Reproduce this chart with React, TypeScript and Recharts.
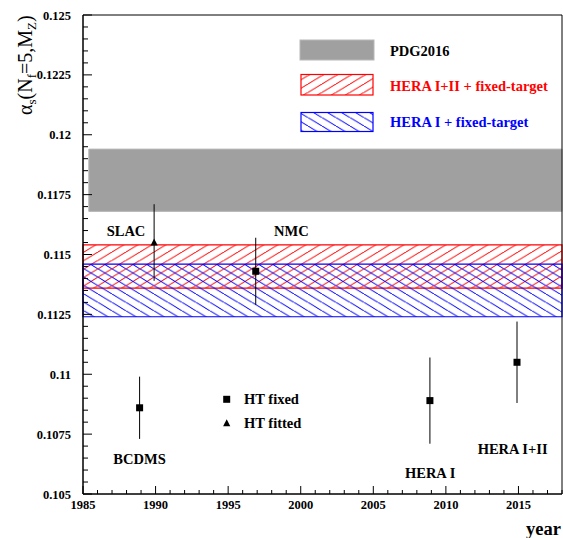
import React from 'react';
import {
  ComposedChart,
  XAxis,
  YAxis,
  Scatter,
  ErrorBar,
  ReferenceArea,
  ReferenceDot,
  Legend,
} from 'recharts';

// ---------- data ----------
const fixedNames = ['BCDMS', 'NMC', 'HERA I', 'HERA I+II'];
const fixedYears = [1988.9, 1996.9, 2008.9, 2014.9];
const fixedAlpha = [0.1086, 0.1143, 0.1089, 0.1105];
const fixedErr = [0.0013, 0.0014, 0.0018, 0.0017];

const fittedNames = ['SLAC'];
const fittedYears = [1989.9];
const fittedAlpha = [0.1155];
const fittedErr = [0.0016];

const pdgBand = [0.1168, 0.1194];
const heraIIBand = [0.1136, 0.1154];
const heraIBand = [0.1124, 0.1146];
const pdgStartYear = 1985.4;

const legendLabels = ['PDG2016', 'HERA I+II + fixed-target', 'HERA I + fixed-target'];
const markerLegendLabels = ['HT fixed', 'HT fitted'];

// experiment label anchors (data coordinates)
const labelNames = ['SLAC', 'NMC', 'BCDMS', 'HERA I', 'HERA I+II'];
const labelYears = [1986.63, 1998.16, 1987.09, 2007.18, 2012.19];
const labelAlpha = [0.11577, 0.11577, 0.10625, 0.10565, 0.10667];

const xDomain = [1985, 2018];
const yDomain = [0.105, 0.125];
const xMajorTicks = [1985, 1990, 1995, 2000, 2005, 2010, 2015];
const yMajorTicks = [0.105, 0.1075, 0.11, 0.1125, 0.115, 0.1175, 0.12, 0.1225, 0.125];

const xTicks: number[] = [];
for (let yr = xDomain[0]; yr <= xDomain[1]; yr++) xTicks.push(yr);
const yTicks: number[] = [];
for (let i = 1050; i <= 1250; i += 5) yTicks.push(i / 10000);

const fixedData = fixedYears.map((year, i) => ({
  name: fixedNames[i],
  year,
  alpha: fixedAlpha[i],
  err: fixedErr[i],
}));
const fittedData = fittedYears.map((year, i) => ({
  name: fittedNames[i],
  year,
  alpha: fittedAlpha[i],
  err: fittedErr[i],
}));

const FONT = "'Liberation Serif', 'Times New Roman', serif";

function XTick(props: any) {
  const { x, y, payload } = props;
  const v = payload.value;
  const major = xMajorTicks.includes(v);
  return (
    <g>
      <line x1={x} x2={x} y1={y} y2={y - (major ? 8 : 4)} stroke="#000" strokeWidth={1} />
      {major && (
        <text x={x} y={y + 15} textAnchor="middle" fontFamily={FONT} fontWeight="bold" fontSize={12.5} fill="#000">
          {v}
        </text>
      )}
    </g>
  );
}

function YTick(props: any) {
  const { x, y, payload } = props;
  const v = payload.value;
  const major = yMajorTicks.some((t) => Math.abs(t - v) < 1e-9);
  return (
    <g>
      <line x1={x} x2={x + (major ? 9 : 5)} y1={y} y2={y} stroke="#000" strokeWidth={1} />
      {major && (
        <text x={x - 12} y={y} dy="0.36em" textAnchor="end" fontFamily={FONT} fontWeight="bold" fontSize={12.5} fill="#000">
          {String(v)}
        </text>
      )}
    </g>
  );
}

const SquareShape = (props: any) => {
  const { cx, cy } = props;
  return <rect x={cx - 3.5} y={cy - 3.5} width={7} height={7} fill="#000" />;
};
const TriangleShape = (props: any) => {
  const { cx, cy } = props;
  return <polygon points={`${cx},${cy - 4} ${cx + 3.6},${cy + 3} ${cx - 3.6},${cy + 3}`} fill="#000" />;
};

const YTitle = () => (
  <text
    transform="translate(32,115) rotate(-90)"
    fontFamily={FONT}
    fontSize={20}
    fill="#000"
  >
    α<tspan fontSize={13} dy={4}>s</tspan>
    <tspan dy={-4}>(N</tspan>
    <tspan fontSize={13} dy={4}>f</tspan>
    <tspan dy={-4}>=5,M</tspan>
    <tspan fontSize={13} dy={4}>Z</tspan>
    <tspan dy={-4}>)</tspan>
  </text>
);

const XTitle = () => (
  <text x={561} y={535} textAnchor="end" fontFamily={FONT} fontWeight="bold" fontSize={18.5} fill="#000">
    year
  </text>
);

const Defs = () => (
  <svg width={0} height={0} style={{ position: 'absolute' }}>
    <defs>
      <pattern id="hatchRed" patternUnits="userSpaceOnUse" width={14} height={8.4}>
        <line x1={0} y1={8.4} x2={14} y2={0} stroke="#ff0000" strokeWidth={1} />
        <line x1={-14} y1={8.4} x2={0} y2={0} stroke="#ff0000" strokeWidth={1} />
        <line x1={14} y1={8.4} x2={28} y2={0} stroke="#ff0000" strokeWidth={1} />
      </pattern>
      <pattern id="hatchBlue" patternUnits="userSpaceOnUse" width={14} height={8.4}>
        <line x1={0} y1={0} x2={14} y2={8.4} stroke="#0000ff" strokeWidth={1} />
        <line x1={-14} y1={0} x2={0} y2={8.4} stroke="#0000ff" strokeWidth={1} />
        <line x1={14} y1={0} x2={28} y2={8.4} stroke="#0000ff" strokeWidth={1} />
      </pattern>
    </defs>
  </svg>
);

const LegendContent = () => (
  <svg width={563} height={538} style={{ position: 'absolute', left: 0, top: 0 }}>
    <rect x={300} y={40} width={74} height={20} fill="#a0a0a0" stroke="#b8b8b8" strokeWidth={1} />
    <text x={390} y={56} fontFamily={FONT} fontWeight="bold" fontSize={14.5} fill="#000">
      {legendLabels[0]}
    </text>
    <rect x={301} y={74.5} width={72} height={20.5} fill="url(#hatchRed)" stroke="#ff0000" strokeWidth={1.2} />
    <text x={390} y={91} fontFamily={FONT} fontWeight="bold" fontSize={14.5} fill="#ff0000">
      {legendLabels[1]}
    </text>
    <rect x={301} y={112.5} width={72} height={19} fill="url(#hatchBlue)" stroke="#0000ff" strokeWidth={1.2} />
    <text x={390} y={126.5} fontFamily={FONT} fontWeight="bold" fontSize={14.5} fill="#0000ff">
      {legendLabels[2]}
    </text>
    <rect x={223.2} y={395.8} width={7} height={7} fill="#000" />
    <text x={244} y={404} fontFamily={FONT} fontWeight="bold" fontSize={14.5} fill="#000">
      {markerLegendLabels[0]}
    </text>
    <polygon points="226.7,419.3 230.3,426.3 223.1,426.3" fill="#000" />
    <text x={244} y={428} fontFamily={FONT} fontWeight="bold" fontSize={14.5} fill="#000">
      {markerLegendLabels[1]}
    </text>
  </svg>
);

export default function App() {
  return (
    <div style={{ position: 'absolute', left: 0, top: 0, width: 563, height: 538, background: '#fff' }}>
      <Defs />
      <ComposedChart width={563} height={538} margin={{ top: 15, right: 1, bottom: 0, left: 0 }}>
        <XAxis
          type="number"
          dataKey="year"
          domain={xDomain}
          ticks={xTicks}
          interval={0}
          allowDataOverflow
          height={44}
          tickSize={0}
          tickMargin={0}
          tickLine={false}
          tick={<XTick />}
          axisLine={{ stroke: '#000', strokeWidth: 1 }}
          label={<XTitle />}
        />
        <YAxis
          type="number"
          dataKey="alpha"
          domain={yDomain}
          ticks={yTicks}
          interval={0}
          allowDataOverflow
          width={83}
          tickSize={0}
          tickMargin={0}
          tickLine={false}
          tick={<YTick />}
          axisLine={{ stroke: '#000', strokeWidth: 1 }}
          label={<YTitle />}
        />
        <ReferenceArea
          x1={pdgStartYear}
          x2={xDomain[1]}
          y1={pdgBand[0]}
          y2={pdgBand[1]}
          fill="#a0a0a0"
          fillOpacity={1}
          stroke="#b8b8b8"
          strokeWidth={1}
          ifOverflow="visible"
        />
        <ReferenceArea
          x1={xDomain[0]}
          x2={xDomain[1]}
          y1={heraIIBand[0]}
          y2={heraIIBand[1]}
          fill="url(#hatchRed)"
          fillOpacity={1}
          stroke="#ff0000"
          strokeWidth={1.2}
          ifOverflow="visible"
        />
        <ReferenceArea
          x1={xDomain[0]}
          x2={xDomain[1]}
          y1={heraIBand[0]}
          y2={heraIBand[1]}
          fill="url(#hatchBlue)"
          fillOpacity={1}
          stroke="#0000ff"
          strokeWidth={1.2}
          ifOverflow="visible"
        />
        <ReferenceArea
          x1={xDomain[0]}
          x2={xDomain[1]}
          y1={yDomain[0]}
          y2={yDomain[1]}
          fill="none"
          stroke="#000"
          strokeWidth={1}
          ifOverflow="visible"
        />
        {labelNames.map((name, i) => (
          <ReferenceDot
            key={name}
            x={labelYears[i]}
            y={labelAlpha[i]}
            r={0}
            ifOverflow="visible"
            shape={(p: any) => (
              <text x={p.cx} y={p.cy} fontFamily={FONT} fontWeight="bold" fontSize={14.5} fill="#000">
                {name}
              </text>
            )}
          />
        ))}
        <Scatter data={fixedData} dataKey="alpha" shape={<SquareShape />} isAnimationActive={false}>
          <ErrorBar dataKey="err" direction="y" width={0} stroke="#000" strokeWidth={1} />
        </Scatter>
        <Scatter data={fittedData} dataKey="alpha" shape={<TriangleShape />} isAnimationActive={false}>
          <ErrorBar dataKey="err" direction="y" width={0} stroke="#000" strokeWidth={1} />
        </Scatter>
        <Legend
          layout="horizontal"
          verticalAlign="middle"
          align="center"
          wrapperStyle={{ position: 'absolute', left: 0, top: 0, width: 563, height: 538, pointerEvents: 'none' }}
          content={<LegendContent />}
        />
      </ComposedChart>
    </div>
  );
}
